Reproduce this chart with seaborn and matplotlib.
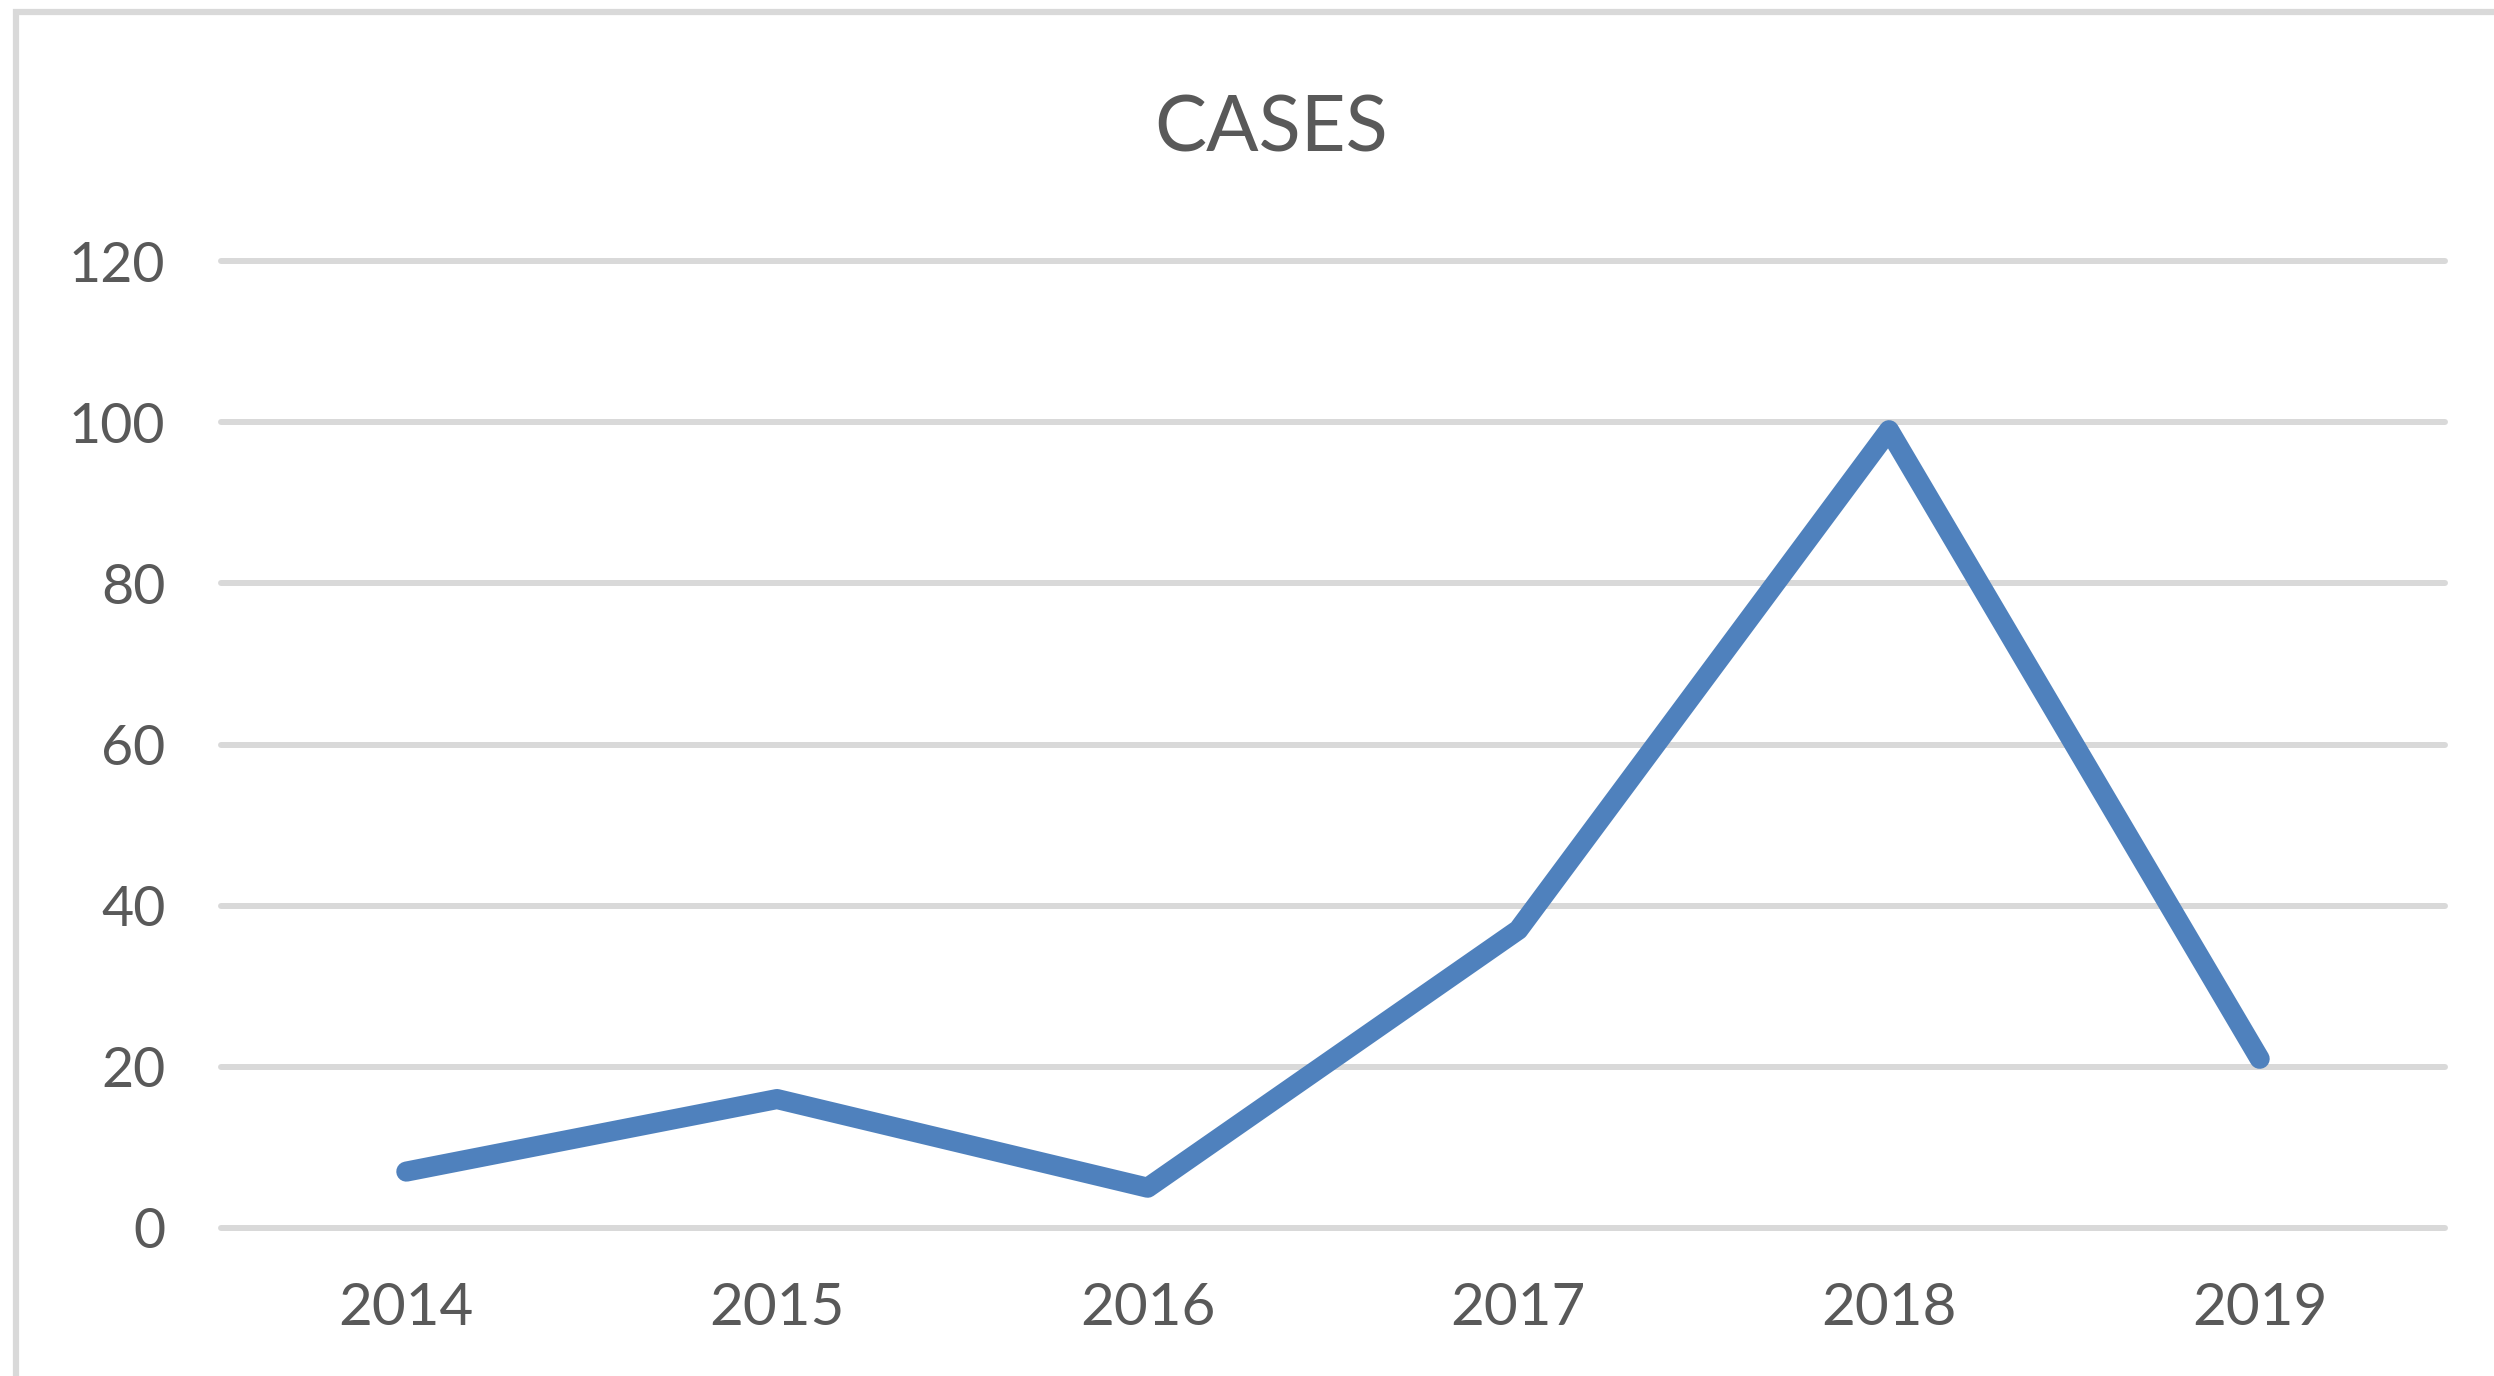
import numpy as np
import pandas as pd
import matplotlib
matplotlib.use("Agg")
import matplotlib.pyplot as plt
import seaborn as sns
from matplotlib.patches import Rectangle

# data
years = ["2014", "2015", "2016", "2017", "2018", "2019"]
cases = [7, 16, 5, 37, 99, 21]
y_ticks = [0, 20, 40, 60, 80, 100, 120]

df = pd.DataFrame({"year": years, "cases": cases})

sns.set_theme(style="white")
plt.rcParams["font.family"] = ["Lato", "DejaVu Sans"]

fig = plt.figure(figsize=(24.94, 13.76), dpi=100)
ax = fig.add_axes([221 / 2494, 1 - 1228 / 1376, (2445 - 221) / 2494, (1228 - 261) / 1376])

# gridlines behind the line
for t in y_ticks:
    ax.axhline(t, color="#d9d9d9", lw=4.3, zorder=1, clip_on=False)

sns.lineplot(data=df, x="year", y="cases", ax=ax, color="#4f81bd",
             linewidth=14.5, sort=False, zorder=3, solid_capstyle="round")

ax.set_xlim(-0.5, len(years) - 0.5)
ax.set_ylim(0, 120)
ax.set_yticks(y_ticks)
ax.set_yticklabels([str(t) for t in y_ticks])
ax.set_xlabel("")
ax.set_ylabel("")
ax.tick_params(axis="y", length=0, pad=40, labelsize=40, labelcolor="#595959")
ax.tick_params(axis="x", length=0, pad=39, labelsize=42, labelcolor="#595959")
for s in ax.spines.values():
    s.set_visible(False)
ax.patch.set_alpha(0)

fig.text(1271 / 2494, 1 - 130 / 1376, "CASES", ha="center", va="center",
         fontsize=56, color="#595959")

# chart area border (only top and left visible in the crop)
fig.patches.append(Rectangle((16 / 2494, -0.1), 1.2, 1.1 - 12 / 1376,
                             transform=fig.transFigure, fill=False,
                             edgecolor="#d9d9d9", lw=4.5, zorder=0))

fig.savefig("out.png", dpi=100, facecolor="white")
